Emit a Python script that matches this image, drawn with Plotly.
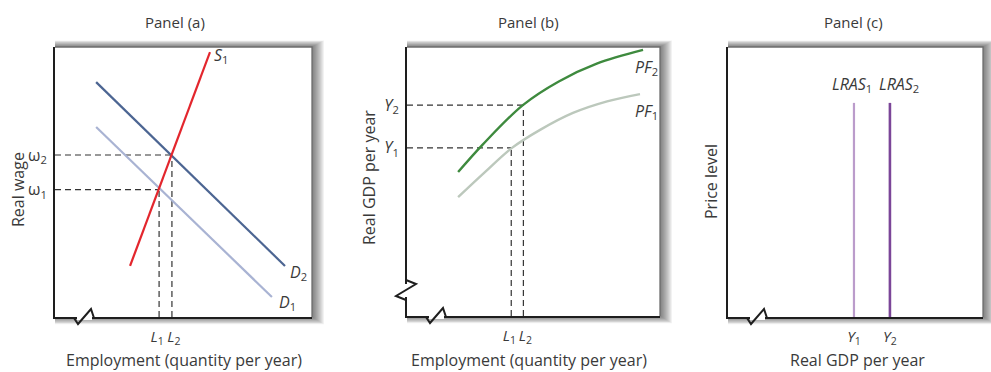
import plotly.graph_objects as go

W, H = 991, 372

# ---------------- data ----------------
# Panel (a): labour market
s1_x = [2.92, 6.03]
s1_y = [1.89, 9.81]
d2_x = [1.60, 8.95]
d2_y = [8.70, 1.89]
d1_x = [1.60, 8.44]
d1_y = [7.04, 0.74]
a_L = [4.05, 4.55]      # L1, L2
a_w = [4.72, 6.00]      # omega1, omega2

# Panel (b): production functions
pf2_x = [2.02, 3.00, 4.58, 6.00, 7.50, 9.33]
pf2_y = [5.35, 6.38, 7.84, 8.72, 9.38, 9.89]
pf1_x = [2.02, 3.08, 4.15, 5.26, 6.56, 7.91, 9.21]
pf1_y = [4.42, 5.35, 6.25, 6.92, 7.55, 7.98, 8.25]
b_L = [4.12, 4.60]      # L1, L2
b_Y = [6.25, 7.84]      # Y1, Y2

# Panel (c): long-run aggregate supply
c_Y = [4.94, 6.35]      # Y1, Y2
c_top = 7.93

# ---------------- styling ----------------
FONT = "Open Sans"
TXT = "#3a3a3a"
DASH = dict(color="#333333", width=1.2, dash="6px,4px")

# panel boxes in pixels (left, top, right, bottom)
boxes = {
    "a": (55, 47, 312, 317),
    "b": (407, 47, 660, 316),
    "c": (728, 47, 983, 317),
}

def px(x):
    return x / W

def py(y):
    return 1 - y / H

fig = go.Figure()

def line(x, y, color, width, xa, ya, dash=None, shape="linear"):
    fig.add_trace(go.Scatter(
        x=x, y=y, mode="lines", xaxis=xa, yaxis=ya,
        line=dict(color=color, width=width, dash=dash, shape=shape),
        hoverinfo="skip", showlegend=False))

# Panel (a)
for L, w in zip(a_L, a_w):
    fig.add_trace(go.Scatter(x=[0, L], y=[w, w], mode="lines", xaxis="x", yaxis="y",
                             line=DASH, hoverinfo="skip", showlegend=False))
    fig.add_trace(go.Scatter(x=[L, L], y=[0, w], mode="lines", xaxis="x", yaxis="y",
                             line=DASH, hoverinfo="skip", showlegend=False))
line(d1_x, d1_y, "#a9b3d3", 2.2, "x", "y")
line(d2_x, d2_y, "#4c6592", 2.2, "x", "y")
line(s1_x, s1_y, "#e3262d", 2.2, "x", "y")

# Panel (b)
for L, Yv in zip(b_L, b_Y):
    fig.add_trace(go.Scatter(x=[0, L], y=[Yv, Yv], mode="lines", xaxis="x2", yaxis="y2",
                             line=DASH, hoverinfo="skip", showlegend=False))
    fig.add_trace(go.Scatter(x=[L, L], y=[0, Yv], mode="lines", xaxis="x2", yaxis="y2",
                             line=DASH, hoverinfo="skip", showlegend=False))
line(pf1_x, pf1_y, "#bcc8bc", 2.4, "x2", "y2", shape="spline")
line(pf2_x, pf2_y, "#3e8a3e", 2.4, "x2", "y2", shape="spline")

# Panel (c)
line([c_Y[0], c_Y[0]], [0, c_top], "#bb9ccb", 2.2, "x3", "y3")
line([c_Y[1], c_Y[1]], [0, c_top], "#7b4698", 2.6, "x3", "y3")

# ---------------- axes ----------------
TICKFONT = dict(family=FONT, size=15, color=TXT)

def xax(box, anchor, vals, texts):
    l, t, r, b = box
    return dict(domain=[px(l), px(r)], anchor=anchor, range=[0, 10],
                showgrid=False, zeroline=False, showline=True, linecolor="#1e1e1e",
                linewidth=2, ticks="outside", ticklen=5, tickcolor="rgba(0,0,0,0)",
                tickvals=vals, ticktext=texts, tickangle=0,
                tickfont=TICKFONT, fixedrange=True)

def yax(box, anchor, vals, texts):
    l, t, r, b = box
    return dict(domain=[py(b), py(t)], anchor=anchor, range=[0, 10],
                showgrid=False, zeroline=False, showline=True, linecolor="#1e1e1e",
                linewidth=2, ticks="outside", ticklen=3, tickcolor="rgba(0,0,0,0)",
                tickvals=vals, ticktext=texts,
                tickfont=dict(family=FONT, size=16, color=TXT), fixedrange=True)

NB = "\u00a0"
L_txt = ["<i>L</i><sub>1</sub>" + NB, NB + "<i>L</i><sub>2</sub>"]
Y_txt = ["<i>Y</i><sub>1</sub>", "<i>Y</i><sub>2</sub>"]
w_txt = ["ω<sub>1</sub>", "ω<sub>2</sub>"]

fig.update_layout(
    width=W, height=H, margin=dict(l=0, r=0, t=0, b=0),
    paper_bgcolor="white", plot_bgcolor="white", showlegend=False,
    xaxis=xax(boxes["a"], "y", a_L, L_txt),
    yaxis=yax(boxes["a"], "x", a_w, w_txt),
    xaxis2=xax(boxes["b"], "y2", b_L, L_txt),
    yaxis2=yax(boxes["b"], "x2", b_Y, Y_txt),
    xaxis3=xax(boxes["c"], "y3", c_Y, Y_txt),
    yaxis3=yax(boxes["c"], "x3", [], []),
)

# ---------------- frames with shadow ----------------
shapes = []
for key, (l, t, r, b) in boxes.items():
    for i in range(12, 0, -1):
        shapes.append(dict(type="rect", xref="paper", yref="paper", layer="below",
                           x0=px(l), x1=px(r + i * 1.0), y0=py(b + i * 0.6), y1=py(t - i * 0.55),
                           line=dict(width=0), fillcolor="rgba(0,0,0,0.05)"))
    shapes.append(dict(type="rect", xref="paper", yref="paper", layer="below",
                       x0=px(l), x1=px(r), y0=py(b), y1=py(t),
                       line=dict(width=0), fillcolor="white"))
    # top and right edges
    shapes.append(dict(type="path", xref="paper", yref="paper", layer="above",
                       path=f"M {px(l)},{py(t)} L {px(r)},{py(t)} L {px(r)},{py(b)}",
                       line=dict(color="#6e6e6e", width=1.3)))

# axis break marks (pixel positions)
def zig(points):
    return "M " + " L ".join(f"{px(x)},{py(y)}" for x, y in points)

breaks_x = [(74, 317, 94), (426, 316, 446), (747, 317, 767)]
for x0, yb, x1 in breaks_x:
    shapes.append(dict(type="line", xref="paper", yref="paper",
                       x0=px(x0 + 3), x1=px(x1 - 2), y0=py(yb + 1), y1=py(yb + 1),
                       line=dict(color="white", width=4)))
    shapes.append(dict(type="path", xref="paper", yref="paper",
                       path=zig([(x0, yb + 1), (x0 + 4, yb + 7), (x1 - 3, yb - 8), (x1, yb + 1)]),
                       line=dict(color="#1e1e1e", width=2)))
# y-axis break in panel (b)
shapes.append(dict(type="line", xref="paper", yref="paper",
                   x0=px(406), x1=px(406), y0=py(284), y1=py(297),
                   line=dict(color="white", width=4)))
shapes.append(dict(type="path", xref="paper", yref="paper",
                   path=zig([(406, 280), (416, 284), (396, 296), (406, 300)]),
                   line=dict(color="#1e1e1e", width=2)))
fig.update_layout(shapes=shapes)

# ---------------- text ----------------
ann = []
def txt(text, x, y, xref="paper", yref="paper", size=16, xanchor="center", yanchor="middle", angle=0):
    ann.append(dict(text=text, x=x, y=y, xref=xref, yref=yref, showarrow=False,
                    xanchor=xanchor, yanchor=yanchor, textangle=angle,
                    font=dict(family=FONT, size=size, color=TXT)))

txt("Panel (a)", px(175), py(22), size=15)
txt("Panel (b)", px(528), py(22), size=15)
txt("Panel (c)", px(853), py(22), size=15)
txt("Employment (quantity per year)", px(184), py(360))
txt("Employment (quantity per year)", px(529), py(360))
txt("Real GDP per year", px(857), py(360))
txt("Real wage", px(18), py(190), angle=-90)
txt("Real GDP per year", px(369), py(178), angle=-90)
txt("Price level", px(711), py(182), angle=-90)

txt("<i>S</i><sub>1</sub>", 6.1, 9.7, "x", "y", xanchor="left")
txt("<i>D</i><sub>2</sub>", 9.05, 1.65, "x", "y", xanchor="left")
txt("<i>D</i><sub>1</sub>", 8.65, 0.55, "x", "y", xanchor="left")
txt("<i>PF</i><sub>2</sub>", 8.95, 9.25, "x2", "y2", xanchor="left")
txt("<i>PF</i><sub>1</sub>", 8.95, 7.6, "x2", "y2", xanchor="left")
txt("<i>LRAS</i><sub>1</sub>", 4.85, 8.6, "x3", "y3")
txt("<i>LRAS</i><sub>2</sub>", 6.7, 8.6, "x3", "y3")
fig.update_layout(annotations=ann)

fig.write_html("out.html", post_script="document.body.style.margin='0';",
               config={"displayModeBar": False})
